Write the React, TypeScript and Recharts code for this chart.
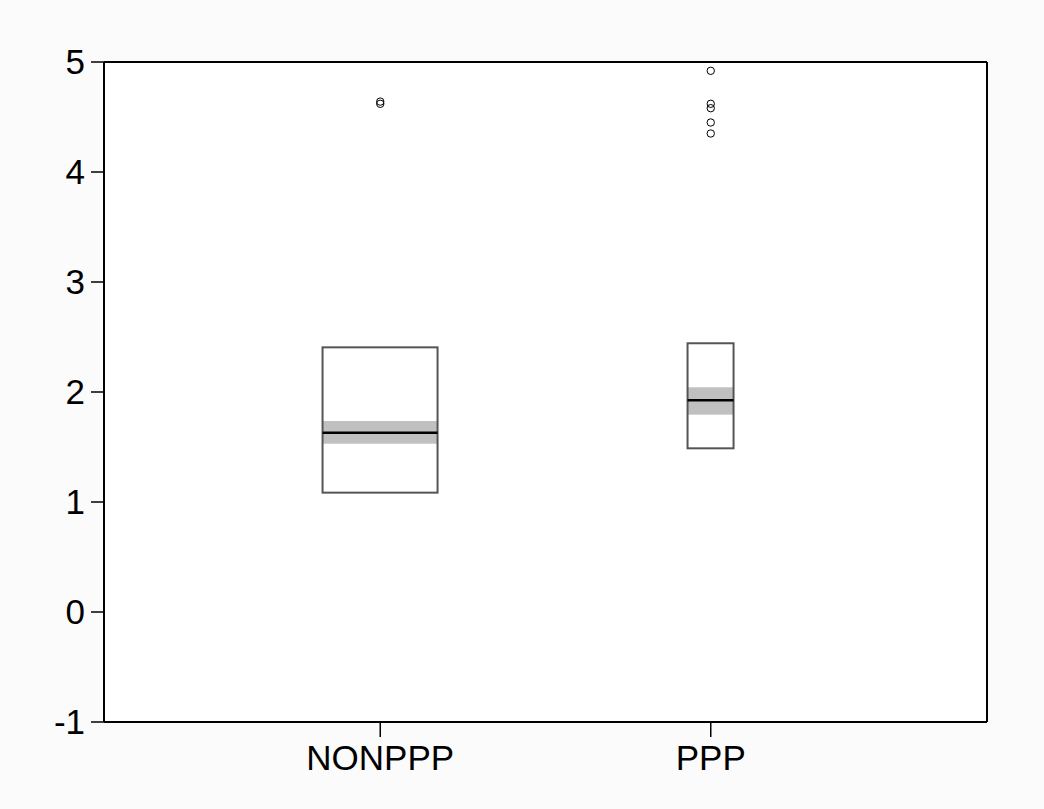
import { ComposedChart, Bar, Scatter, XAxis, YAxis, CartesianGrid } from 'recharts'

const categories = ['NONPPP', 'PPP']
const q1Values = [1.085, 1.488]
const q3Values = [2.406, 2.443]
const medianValues = [1.63, 1.925]
const ciLowValues = [1.53, 1.794]
const ciHighValues = [1.736, 2.043]
const yTicks = [-1, 0, 1, 2, 3, 4, 5]

const outlierCategories = ['NONPPP', 'NONPPP', 'PPP', 'PPP', 'PPP', 'PPP', 'PPP']
const outlierValues = [4.64, 4.62, 4.92, 4.62, 4.58, 4.45, 4.35]

const boxData = categories.map((name, i) => ({
  name,
  q1: q1Values[i],
  q3: q3Values[i],
  median: medianValues[i],
  ciLow: ciLowValues[i],
  ciHigh: ciHighValues[i],
}))

const outlierData = outlierCategories.map((name, i) => ({ name, value: outlierValues[i] }))

// box widths in px (style only)
const BOX_WIDTH: Record<string, number> = { NONPPP: 115, PPP: 46 }

const BoxShape = (props: any) => {
  const { x, y, width, height, payload } = props
  if (payload == null) return null
  const top = Math.min(y, y + height)
  const h = Math.abs(height)
  const perUnit = h / (payload.q3 - payload.q1)
  const yOf = (v: number) => top + (payload.q3 - v) * perUnit
  const cx = x + width / 2
  const w = BOX_WIDTH[payload.name] ?? 60
  const left = cx - w / 2
  return (
    <g>
      <rect x={left} y={top} width={w} height={h} fill="#fff" />
      <rect
        x={left}
        y={yOf(payload.ciHigh)}
        width={w}
        height={yOf(payload.ciLow) - yOf(payload.ciHigh)}
        fill="#c0c0c0"
      />
      <rect x={left} y={top} width={w} height={h} fill="none" stroke="#555" strokeWidth={2} />
      <line x1={left} x2={left + w} y1={yOf(payload.median)} y2={yOf(payload.median)} stroke="#000" strokeWidth={2.5} />
    </g>
  )
}

const OutlierShape = (props: any) => {
  const { cx, cy } = props
  return <circle cx={cx} cy={cy} r={3.7} fill="none" stroke="#000" strokeWidth={1} />
}

const tickStyle = { fill: '#000', fontSize: 35, fontFamily: '"Liberation Sans", Arial, sans-serif' }

export default function App() {
  return (
    <div style={{ position: 'absolute', left: 0, top: 0, width: 1044, height: 809, background: '#fbfbfb' }}>
      <ComposedChart
        width={1044}
        height={809}
        data={boxData}
        margin={{ top: 61, right: 56, bottom: 27, left: 44 }}
      >
        <CartesianGrid horizontal={false} vertical={false} fill="#fff" stroke="none" />
        <XAxis
          dataKey="name"
          type="category"
          allowDuplicatedCategory={false}
          padding={{ left: 111, right: 111 }}
          height={60}
          tick={tickStyle}
          tickSize={15}
          tickMargin={8}
          tickLine={{ stroke: '#000', strokeWidth: 1.5 }}
          axisLine={{ stroke: '#000', strokeWidth: 2 }}
        />
        <XAxis
          xAxisId="top"
          dataKey="name"
          type="category"
          allowDuplicatedCategory={false}
          orientation="top"
          height={1}
          tick={false}
          tickLine={false}
          axisLine={{ stroke: '#000', strokeWidth: 2 }}
        />
        <YAxis
          type="number"
          domain={[-1, 5]}
          ticks={yTicks}
          width={60}
          tick={tickStyle}
          tickSize={13}
          tickMargin={6}
          tickLine={{ stroke: '#000', strokeWidth: 1.5 }}
          axisLine={{ stroke: '#000', strokeWidth: 2 }}
          allowDataOverflow
        />
        <YAxis
          yAxisId="right"
          type="number"
          orientation="right"
          domain={[-1, 5]}
          width={1}
          tick={false}
          tickLine={false}
          axisLine={{ stroke: '#000', strokeWidth: 2 }}
        />
        <Bar dataKey={(d: any) => [d.q1, d.q3]} shape={BoxShape} isAnimationActive={false} />
        <Scatter data={outlierData} dataKey="value" shape={OutlierShape} isAnimationActive={false} />
        <Scatter
          data={outlierData.slice(0, 1)}
          dataKey="value"
          xAxisId="top"
          yAxisId="right"
          shape={() => null}
          isAnimationActive={false}
        />
      </ComposedChart>
    </div>
  )
}
